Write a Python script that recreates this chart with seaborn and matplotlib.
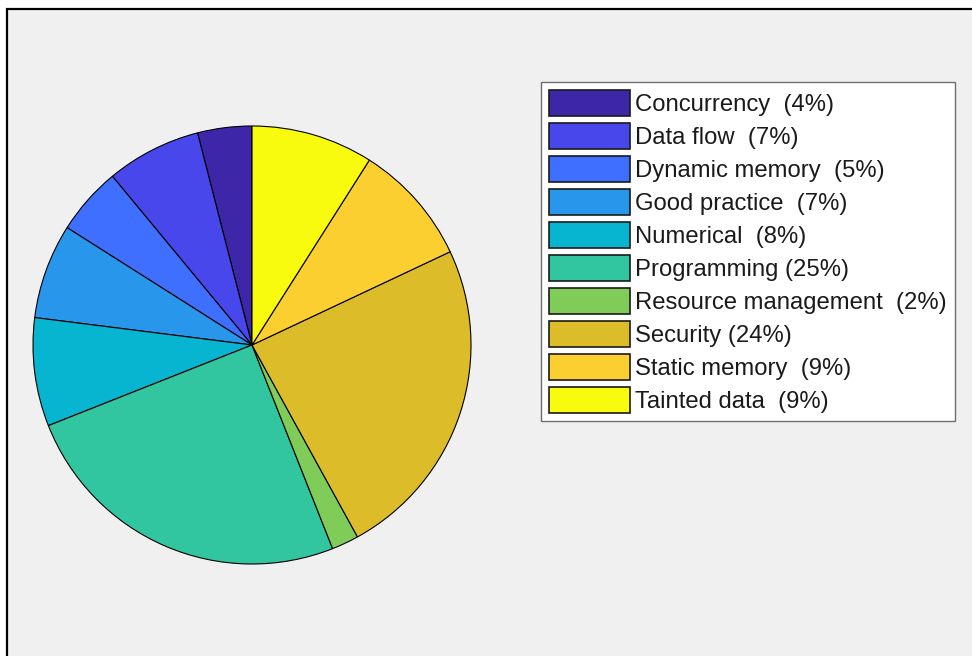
import matplotlib
matplotlib.use("Agg")
import matplotlib.pyplot as plt
from matplotlib.patches import Rectangle
import seaborn as sns

# Defect categories and their share of findings (percent)
categories = ["Concurrency", "Data flow", "Dynamic memory", "Good practice",
              "Numerical", "Programming", "Resource management", "Security",
              "Static memory", "Tainted data"]
shares = [4, 7, 5, 7, 8, 25, 2, 24, 9, 9]

# parula-style colour ramp, one colour per category
palette_hex = ["#3E26A8", "#4747EB", "#3E6FFF", "#2796EB", "#08B5D0",
               "#31C69F", "#80CC59", "#DCBD29", "#FCCF30", "#F9FB0E"]

sns.set_style("white")
plt.rcParams["font.family"] = ["Liberation Sans", "DejaVu Sans"]
colors = sns.color_palette(palette_hex)

W, H = 972, 656
fig = plt.figure(figsize=(W / 100, H / 100), dpi=100, facecolor="white")

# grey window background with a dark frame on the top/left edges
frame = Rectangle((6.5 / W, -0.1), 1.2, (H - 8.5) / H + 0.1,
                  transform=fig.transFigure, facecolor="#F0F0F0",
                  edgecolor="black", linewidth=1.6, zorder=-5)
fig.add_artist(frame)

# pie axes: centre (252, 345) px, radius 219 px
cx, cy, r = 252, 345, 219
ax = fig.add_axes([(cx - r) / W, (H - cy - r) / H, 2 * r / W, 2 * r / H])
ax.set_facecolor("none")

wedges, _ = ax.pie(shares, colors=colors, startangle=90, counterclock=True,
                   radius=1.0,
                   wedgeprops=dict(edgecolor="black", linewidth=0.8))
ax.set_xlim(-1, 1)
ax.set_ylim(-1, 1)
ax.set_aspect("equal")
ax.axis("off")

labels = []
for name, s in zip(categories, shares):
    pad = " " if s >= 10 else "  "
    labels.append(f"{name}{pad}({s}%)")

fs = 17.2
leg = fig.legend(wedges, labels, loc="upper left",
                 bbox_to_anchor=(541 / W, 1 - 82 / H),
                 bbox_transform=fig.transFigure,
                 fontsize=fs, frameon=True, fancybox=False, shadow=False,
                 borderaxespad=0, borderpad=0.33, handlelength=3.4,
                 handleheight=1.3, handletextpad=0.21, labelspacing=0.29)
frm = leg.get_frame()
frm.set_facecolor("white")
frm.set_edgecolor("#6E6E6E")
frm.set_linewidth(1.0)
frm.set_alpha(1)
for t in leg.get_texts():
    t.set_color("#1A1A1A")
for h in leg.legend_handles:
    h.set_linewidth(1.2)
    h.set_edgecolor("#1A1A1A")

fig.savefig("out.png", dpi=100, facecolor=fig.get_facecolor())
